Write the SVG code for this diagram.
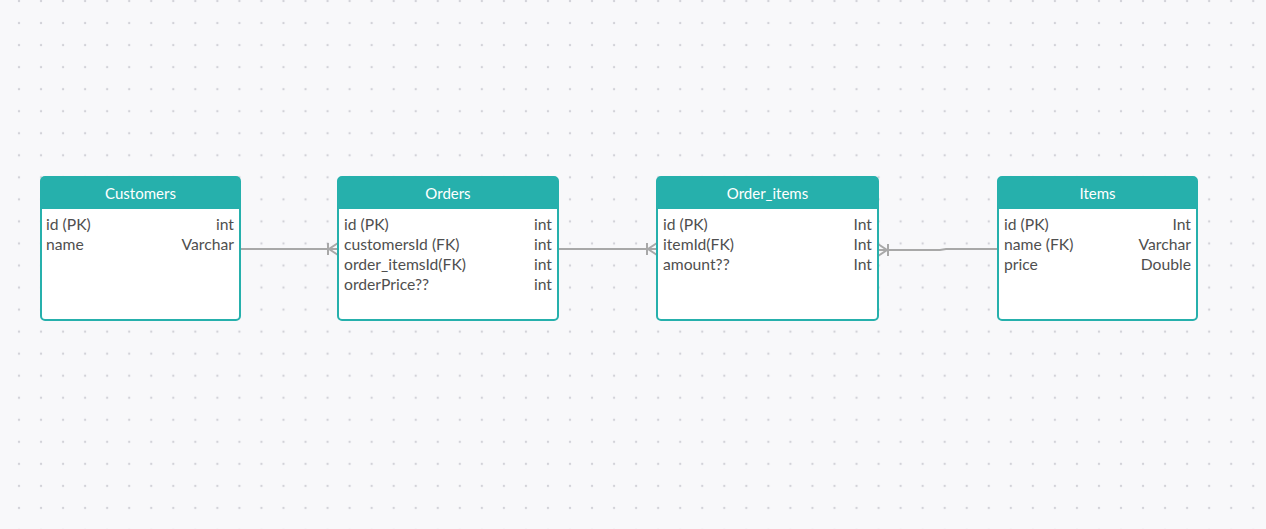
<svg xmlns="http://www.w3.org/2000/svg" width="1266" height="529" viewBox="0 0 1266 529">
<style>
.box{fill:#ffffff;stroke:#26b0ac;stroke-width:2}
.hdr{fill:#26b0ac}
.title{font-family:Lato,"Liberation Sans",sans-serif;font-size:15px;fill:#ffffff;text-anchor:middle}
.f{font-family:Lato,"Liberation Sans",sans-serif;font-size:15.7px;fill:#4f4f4f}
.t{font-family:Lato,"Liberation Sans",sans-serif;font-size:15.7px;fill:#4f4f4f;text-anchor:end}
.c{fill:none;stroke:#a8a8a8;stroke-width:2}
</style>
<defs>
<pattern id="dots" x="19" y="1" width="22.04" height="22.04" patternUnits="userSpaceOnUse">
<circle cx="0" cy="0" r="1.2" fill="#d2d2d8"/>
<circle cx="22.04" cy="0" r="1.2" fill="#d2d2d8"/>
<circle cx="0" cy="22.04" r="1.2" fill="#d2d2d8"/>
<circle cx="22.04" cy="22.04" r="1.2" fill="#d2d2d8"/>
</pattern>
</defs>
<rect width="1266" height="529" fill="#f8f8fa"/>
<rect width="1266" height="529" fill="url(#dots)"/>

<g id="connectors">
<path class="c" d="M240 249 H338"/>
<path class="c" d="M328 243 V255 M338 243 L329 249 L338 255"/>
<path class="c" d="M558 249 H657"/>
<path class="c" d="M647 243 V255 M657 243 L648 249 L657 255"/>
<path class="c" d="M878 250 H940 L946 249 H998"/>
<path class="c" d="M888 244 V256 M878 244 L887 250 L878 256"/>
</g>

<g id="customers">
<rect class="box" x="41" y="177" width="199" height="143" rx="4"/>
<path class="hdr" d="M41 209 V181 Q41 177 45 177 H236 Q240 177 240 181 V209 Z"/>
<text class="title" x="140.5" y="198.5">Customers</text>
<text class="f" x="46" y="229.5">id (PK)</text><text class="t" x="234" y="229.5">int</text>
<text class="f" x="46" y="249.5">name</text><text class="t" x="234" y="249.5">Varchar</text>
</g>

<g id="orders">
<rect class="box" x="338" y="177" width="220" height="143" rx="4"/>
<path class="hdr" d="M338 209 V181 Q338 177 342 177 H554 Q558 177 558 181 V209 Z"/>
<text class="title" x="448" y="198.5">Orders</text>
<text class="f" x="344" y="229.5">id (PK)</text><text class="t" x="552" y="229.5">int</text>
<text class="f" x="344" y="249.5">customersId (FK)</text><text class="t" x="552" y="249.5">int</text>
<text class="f" x="344" y="269.5">order_itemsId(FK)</text><text class="t" x="552" y="269.5">int</text>
<text class="f" x="344" y="289.5">orderPrice??</text><text class="t" x="552" y="289.5">int</text>
</g>

<g id="order_items">
<rect class="box" x="657" y="177" width="221" height="143" rx="4"/>
<path class="hdr" d="M657 209 V181 Q657 177 661 177 H874 Q878 177 878 181 V209 Z"/>
<text class="title" x="767.5" y="198.5">Order_items</text>
<text class="f" x="663" y="229.5">id (PK)</text><text class="t" x="872" y="229.5">Int</text>
<text class="f" x="663" y="249.5">itemId(FK)</text><text class="t" x="872" y="249.5">Int</text>
<text class="f" x="663" y="269.5">amount??</text><text class="t" x="872" y="269.5">Int</text>
</g>

<g id="items">
<rect class="box" x="998" y="177" width="199" height="143" rx="4"/>
<path class="hdr" d="M998 209 V181 Q998 177 1002 177 H1193 Q1197 177 1197 181 V209 Z"/>
<text class="title" x="1097.5" y="198.5">Items</text>
<text class="f" x="1004" y="229.5">id (PK)</text><text class="t" x="1191" y="229.5">Int</text>
<text class="f" x="1004" y="249.5">name (FK)</text><text class="t" x="1191" y="249.5">Varchar</text>
<text class="f" x="1004" y="269.5">price</text><text class="t" x="1191" y="269.5">Double</text>
</g>
</svg>
